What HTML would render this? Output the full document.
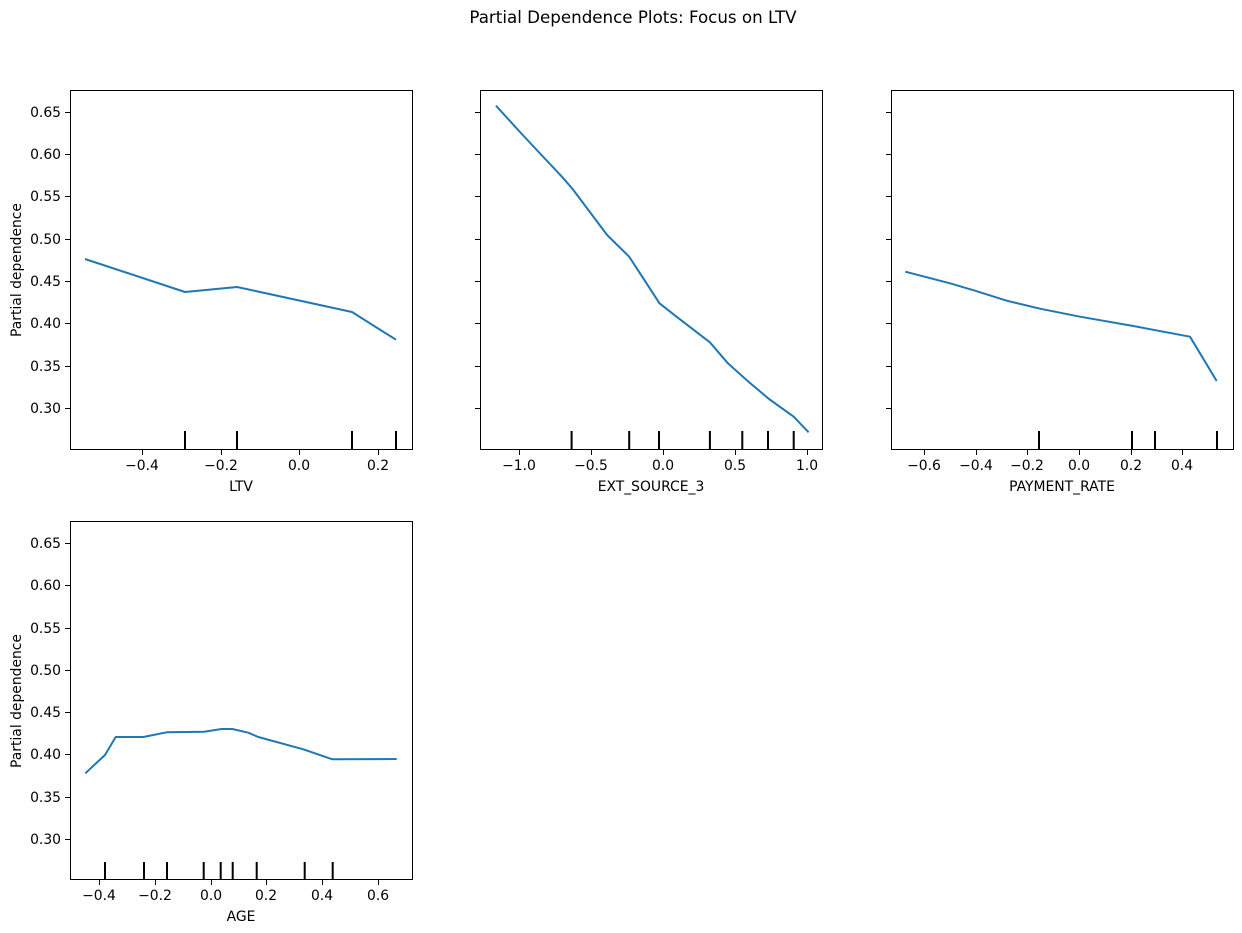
<!DOCTYPE html>
<html><head><meta charset="utf-8"><style>
html,body{margin:0;padding:0;background:#fff;}
svg{display:block;font-family:"DejaVu Sans","Liberation Sans",sans-serif;}
</style></head><body>
<svg width="1242" height="933" viewBox="0 0 1242 933" xmlns="http://www.w3.org/2000/svg">
<rect width="1242" height="933" fill="#fff"/>
<text x="633" y="23" font-size="16.7" text-anchor="middle" fill="#000">Partial Dependence Plots: Focus on LTV</text>
<g stroke="#000" stroke-width="1" fill="none">
<rect x="70.5" y="90.5" width="342" height="359"/>
<rect x="480.5" y="90.5" width="342" height="359"/>
<rect x="891.5" y="90.5" width="342" height="359"/>
<rect x="70.5" y="521.5" width="342" height="358"/>
</g>
<g stroke="#000" stroke-width="1">
<path d="M65 112.5H70M65 154.5H70M65 196.5H70M65 239.5H70M65 281.5H70M65 323.5H70M65 366.5H70M65 408.5H70"/>
<path d="M475 112.5H480M475 154.5H480M475 196.5H480M475 239.5H480M475 281.5H480M475 323.5H480M475 366.5H480M475 408.5H480"/>
<path d="M886 112.5H891M886 154.5H891M886 196.5H891M886 239.5H891M886 281.5H891M886 323.5H891M886 366.5H891M886 408.5H891"/>
<path d="M65 543.5H70M65 585.5H70M65 628.5H70M65 670.5H70M65 712.5H70M65 754.5H70M65 797.5H70M65 839.5H70"/>
<path d="M142.5 450v5M221.5 450v5M299.5 450v5M378.5 450v5"/>
<path d="M519.5 450v5M591.5 450v5M663.5 450v5M735.5 450v5M807.5 450v5"/>
<path d="M924.5 450v5M976.5 450v5M1027.5 450v5M1079.5 450v5M1131.5 450v5M1182.5 450v5"/>
<path d="M99.5 880v5M155.5 880v5M211.5 880v5M266.5 880v5M322.5 880v5M378.5 880v5"/>
</g>
<g font-size="13.9" fill="#000" text-anchor="end">
<text x="61" y="117">0.65</text><text x="61" y="159">0.60</text><text x="61" y="201">0.55</text><text x="61" y="244">0.50</text><text x="61" y="286">0.45</text><text x="61" y="328">0.40</text><text x="61" y="371">0.35</text><text x="61" y="413">0.30</text>
<text x="61" y="548">0.65</text><text x="61" y="590">0.60</text><text x="61" y="633">0.55</text><text x="61" y="675">0.50</text><text x="61" y="717">0.45</text><text x="61" y="759">0.40</text><text x="61" y="802">0.35</text><text x="61" y="844">0.30</text>
</g>
<g font-size="13.9" fill="#000" text-anchor="middle">
<text x="142" y="470">−0.4</text><text x="221" y="470">−0.2</text><text x="299" y="470">0.0</text><text x="378" y="470">0.2</text>
<text x="519" y="470">−1.0</text><text x="591" y="470">−0.5</text><text x="663" y="470">0.0</text><text x="735" y="470">0.5</text><text x="807" y="470">1.0</text>
<text x="924" y="470">−0.6</text><text x="976" y="470">−0.4</text><text x="1027" y="470">−0.2</text><text x="1079" y="470">0.0</text><text x="1131" y="470">0.2</text><text x="1182" y="470">0.4</text>
<text x="99" y="900">−0.4</text><text x="155" y="900">−0.2</text><text x="211" y="900">0.0</text><text x="266" y="900">0.2</text><text x="322" y="900">0.4</text><text x="378" y="900">0.6</text>
<text x="241" y="491">LTV</text><text x="651" y="491">EXT_SOURCE_3</text><text x="1062" y="491">PAYMENT_RATE</text><text x="241" y="921">AGE</text>
<text transform="translate(21 270) rotate(-90)">Partial dependence</text>
<text transform="translate(21 701) rotate(-90)">Partial dependence</text>
</g>
<g stroke="#000" stroke-width="2">
<path d="M185 431V449M237 431V449M352 431V449M396 431V449"/>
<path d="M571.6 431V449M629.2 431V449M659 431V449M709.9 431V449M742.3 431V449M768 431V449M793.7 431V449"/>
<path d="M1039 431V449M1132 431V449M1155 431V449M1217 431V449"/>
<path d="M105 862V880M144 862V880M167 862V880M203.7 862V880M220.7 862V880M232.7 862V880M256.7 862V880M304.7 862V880M332.7 862V880"/>
</g>
<g stroke="#1f77b4" stroke-width="2" fill="none" stroke-linejoin="round">
<polyline points="85,259 185,292 237,287 352,312 396,339.7"/>
<polyline points="496,105.7 518.1,130 537.7,151 561.9,176.7 572.6,189 607.1,235 629.2,256.7 659.5,303.3 676.5,316.7 709.9,342.3 727.9,363.3 748.5,381.7 769,399 793.7,416.7 808.6,432.3"/>
<polyline points="905.3,271.7 950,283.3 975,290.7 1006.7,300.7 1040,308.7 1080,316.7 1133.3,326 1190,336.7 1216.7,381"/>
<polyline points="85.3,773.3 105,755 115.7,737 143.3,737 166.7,732.3 204,731.7 221.7,729 232.3,729 248.3,732.7 258.3,737 303.3,749.3 332.3,759.3 396.7,759"/>
</g>
</svg>
</body></html>
